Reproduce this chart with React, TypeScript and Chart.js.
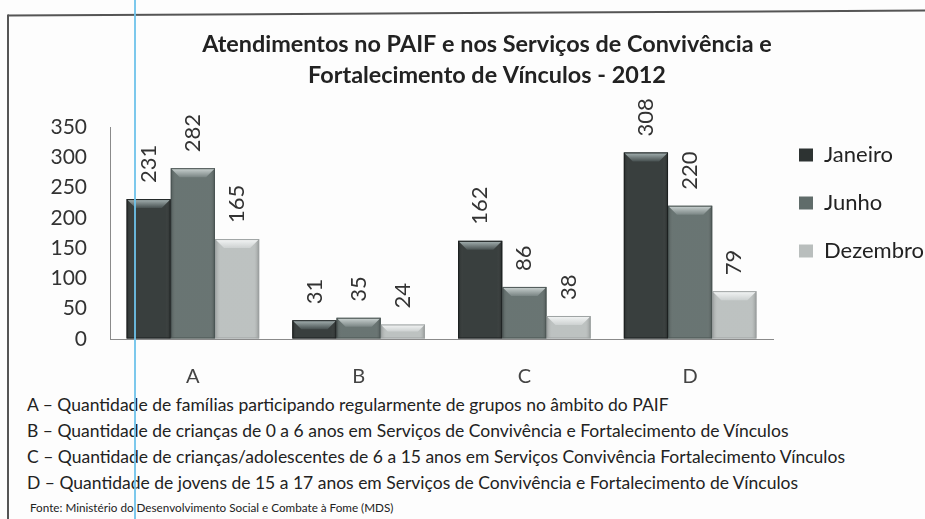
import React, { useEffect, useRef } from "react";
import { Chart, registerables } from "chart.js";

Chart.register(...registerables);

// ---------- data ----------
const categories = ["A", "B", "C", "D"];
const seriesNames = ["Janeiro", "Junho", "Dezembro"];
const janeiro = [231, 31, 162, 308];
const junho = [282, 35, 86, 220];
const dezembro = [165, 24, 38, 79];
const yTicks = [0, 50, 100, 150, 200, 250, 300, 350];
const titleLines = [
  "Atendimentos no PAIF e nos Serviços de Convivência e",
  "Fortalecimento de Vínculos - 2012",
];
const footnotes = [
  "A – Quantidade de famílias participando regularmente de grupos no âmbito do PAIF",
  "B – Quantidade de crianças de 0 a 6 anos em Serviços de Convivência e Fortalecimento de Vínculos",
  "C – Quantidade de crianças/adolescentes de 6 a 15 anos em Serviços Convivência Fortalecimento Vínculos",
  "D – Quantidade de jovens de 15 a 17 anos em Serviços de Convivência e Fortalecimento de Vínculos",
];
const sourceNote = "Fonte: Ministério do Desenvolvimento Social e Combate à Fome (MDS)";

// ---------- styles ----------
const FONT = "Lato, 'Open Sans', sans-serif";
const bodyColors = ["#2d3332", "#606c6a", "#b9bebd"];
const bevelLight = ["#a9b6b6", "#cdd5d4", "#f4f6f6"];
const bevelDark = ["#475050", "#7a8584", "#cdd1d1"];
const edgeColors = ["#1c2020", "#4a5453", "#9ea3a3"];

const CANVAS_LEFT = 9;
const CANVAS_TOP = 17;
const CANVAS_W = 956;
const CANVAS_H = 372;
const PLOT_LEFT_PAGE = 110;
const PLOT_RIGHT_PAGE = 770;
const LEGEND_FONT = 22;
const LEGEND_PAD = 26;
const LEGEND_BOX_W = 14;

const bevelPlugin = {
  id: "bevelAndLabels",
  afterDatasetsDraw(chart: any) {
    const ctx = chart.ctx;
    chart.data.datasets.forEach((ds: any, di: number) => {
      const meta = chart.getDatasetMeta(di);
      meta.data.forEach((el: any, i: number) => {
        const { x, y, base, width } = el.getProps(["x", "y", "base", "width"], true);
        const l = x - width / 2;
        const r = x + width / 2;
        const h = base - y;
        const b = Math.min(9, h / 2);
        ctx.save();
        const g = ctx.createLinearGradient(l, 0, r, 0);
        g.addColorStop(0, "rgba(0,0,0,0.18)");
        g.addColorStop(0.12, "rgba(255,255,255,0.06)");
        g.addColorStop(0.88, "rgba(255,255,255,0.06)");
        g.addColorStop(1, "rgba(0,0,0,0.22)");
        ctx.fillStyle = g;
        ctx.fillRect(l, y, width, h);
        const tg = ctx.createLinearGradient(0, y, 0, y + b);
        tg.addColorStop(0, bevelLight[di]);
        tg.addColorStop(1, bevelDark[di]);
        ctx.fillStyle = tg;
        ctx.beginPath();
        ctx.moveTo(l, y);
        ctx.lineTo(r, y);
        ctx.lineTo(r - b, y + b);
        ctx.lineTo(l + b, y + b);
        ctx.closePath();
        ctx.fill();
        ctx.strokeStyle = edgeColors[di];
        ctx.lineWidth = 1;
        ctx.strokeRect(l + 0.5, y + 0.5, width - 1, h - 1);
        ctx.restore();

        const v = ds.data[i];
        ctx.save();
        ctx.translate(x, y - 16);
        ctx.rotate(-Math.PI / 2);
        ctx.font = `22px ${FONT}`;
        ctx.fillStyle = "#333";
        ctx.textAlign = "left";
        ctx.textBaseline = "middle";
        ctx.fillText(String(v), 0, 0);
        ctx.restore();
      });
    });
  },
};

function ChartCanvas() {
  const ref = useRef<HTMLCanvasElement | null>(null);
  useEffect(() => {
    if (!ref.current) return;
    const m = document.createElement("canvas").getContext("2d")!;
    m.font = `${LEGEND_FONT}px ${FONT}`;
    const textW = Math.max(...seriesNames.map((s) => m.measureText(s).width));
    const legendW = 2 * LEGEND_PAD + LEGEND_BOX_W + LEGEND_FONT / 2 + textW - LEGEND_PAD / 2;
    const pad = CANVAS_W - (PLOT_RIGHT_PAGE - CANVAS_LEFT) - legendW;

    const series = [janeiro, junho, dezembro];
    const chart = new Chart(ref.current, {
      type: "bar",
      data: {
        labels: categories,
        datasets: series.map((d, i) => ({
          label: seriesNames[i],
          data: d,
          backgroundColor: bodyColors[i],
          borderColor: edgeColors[i],
          borderWidth: 0,
          categoryPercentage: 0.8,
          barPercentage: 1.0,
        })),
      },
      options: {
        responsive: false,
        animation: false,
        devicePixelRatio: 1,
        layout: { padding: { left: pad, right: pad, top: 0, bottom: 0 } },
        plugins: {
          tooltip: { enabled: false },
          title: {
            display: true,
            text: titleLines,
            color: "#222",
            font: { family: FONT, size: 23.4, weight: "bold", lineHeight: 31 / 23.4 },
            padding: { top: 11.5, bottom: 36.5 },
          },
          legend: {
            display: true,
            position: "right",
            align: "center",
            fullSize: true,
            labels: {
              color: "#222",
              font: { family: FONT, size: LEGEND_FONT },
              boxWidth: LEGEND_BOX_W,
              boxHeight: 13,
              padding: LEGEND_PAD,
            },
          },
        },
        scales: {
          x: {
            grid: { display: true, drawOnChartArea: false, drawTicks: false },
            border: { display: true, color: "#8a8a8a", width: 1 },
            ticks: { color: "#444", font: { family: FONT, size: 20 }, padding: 26 },
            afterFit: (s: any) => {
              s.height = 50;
            },
          },
          y: {
            min: 0,
            max: 350,
            grid: { display: true, drawOnChartArea: false, drawTicks: false },
            border: { display: true, color: "#8a8a8a", width: 1 },
            ticks: { color: "#333", font: { family: FONT, size: 21 }, padding: 23 },
            afterBuildTicks: (s: any) => {
              s.ticks = yTicks.map((v) => ({ value: v }));
            },
            afterFit: (s: any) => {
              s.width = PLOT_LEFT_PAGE - CANVAS_LEFT - pad;
            },
          },
        },
      },
      plugins: [bevelPlugin],
    });
    return () => chart.destroy();
  }, []);
  return (
    <canvas
      ref={ref}
      width={CANVAS_W}
      height={CANVAS_H}
      style={{ position: "absolute", left: CANVAS_LEFT, top: CANVAS_TOP, width: CANVAS_W, height: CANVAS_H }}
    />
  );
}

export default function App() {
  const noteTops = [405, 431, 457, 483];
  return (
    <div
      style={{
        position: "absolute",
        left: 0,
        top: 0,
        width: 925,
        height: 519,
        overflow: "hidden",
        background: "#fdfdfd",
        fontFamily: FONT,
      }}
    >
      <ChartCanvas />
      {footnotes.map((t, i) => (
        <div
          key={i}
          style={{
            position: "absolute",
            left: 27,
            top: noteTops[i] - 11,
            fontSize: 17.5,
            lineHeight: "22px",
            color: "#222",
            whiteSpace: "nowrap",
          }}
        >
          {t}
        </div>
      ))}
      <div
        style={{
          position: "absolute",
          left: 30,
          top: 507 - 8,
          fontSize: 11.7,
          lineHeight: "16px",
          color: "#222",
          whiteSpace: "nowrap",
        }}
      >
        {sourceNote}
      </div>
      <svg
        width={925}
        height={519}
        style={{ position: "absolute", left: 0, top: 0, pointerEvents: "none" }}
      >
        <line x1={8} y1={15.5} x2={925} y2={10.5} stroke="#555" strokeWidth={2} />
        <line x1={8} y1={14.5} x2={8} y2={519} stroke="#555" strokeWidth={2} />
        <line x1={135} y1={0} x2={135} y2={519} stroke="#6ec3ea" strokeWidth={2} opacity={0.9} />
      </svg>
    </div>
  );
}
